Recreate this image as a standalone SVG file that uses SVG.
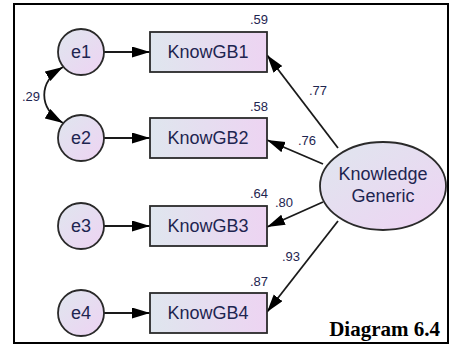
<svg xmlns="http://www.w3.org/2000/svg" width="451" height="351" viewBox="0 0 451 351">
<defs>
<linearGradient id="g" x1="0" y1="0" x2="1" y2="1">
<stop offset="0" stop-color="#dfe6ee"/>
<stop offset="1" stop-color="#eed3f3"/>
</linearGradient>
<linearGradient id="gb" x1="0" y1="0" x2="1" y2="0">
<stop offset="0" stop-color="#dfe6ee"/>
<stop offset="1" stop-color="#edd4f2"/>
</linearGradient>
<marker id="ah" markerUnits="userSpaceOnUse" markerWidth="20" markerHeight="12" refX="18" refY="5.5" orient="auto-start-reverse">
<path d="M0,0 L18,5.5 L0,11 z" fill="#000"/>
</marker>
</defs>
<style>
.node{stroke:#2a2a2a;stroke-width:1.8}
.lbl{font-family:"Liberation Sans",Arial,sans-serif;font-size:18px;fill:#1e2550;text-anchor:middle}
.num{font-family:"Liberation Sans",Arial,sans-serif;font-size:13px;fill:#1e2550;text-anchor:middle}
.con{stroke:#1a1a1a;stroke-width:1.8;fill:none;marker-end:url(#ah)}
</style>
<rect x="14" y="4" width="434" height="339" fill="#fff" stroke="#000" stroke-width="2"/>
<g id="connectors">
<line class="con" x1="104" y1="52" x2="150" y2="52"/>
<line class="con" x1="104" y1="138" x2="150" y2="138"/>
<line class="con" x1="104" y1="226" x2="150" y2="226"/>
<line class="con" x1="104" y1="313" x2="150" y2="313"/>
<path class="con" style="marker-start:url(#ah)" d="M63,67 C38,82 38,108 63,123"/>
<line class="con" x1="338" y1="148" x2="267" y2="55"/>
<line class="con" x1="323" y1="164" x2="267" y2="140"/>
<line class="con" x1="323" y1="202" x2="267" y2="227"/>
<line class="con" x1="338" y1="221" x2="267" y2="312"/>
<text class="num" x="31" y="101">.29</text>
<text class="num" x="318" y="95">.77</text>
<text class="num" x="307" y="145">.76</text>
<text class="num" x="284" y="207">.80</text>
<text class="num" x="291" y="261">.93</text>
</g>
<g id="e1"><circle class="node" cx="81" cy="52" r="23" fill="url(#g)"/><text class="lbl" x="81" y="58">e1</text></g>
<g id="e2"><circle class="node" cx="81" cy="138" r="23" fill="url(#g)"/><text class="lbl" x="81" y="144">e2</text></g>
<g id="e3"><circle class="node" cx="81" cy="226" r="23" fill="url(#g)"/><text class="lbl" x="81" y="232">e3</text></g>
<g id="e4"><circle class="node" cx="81" cy="313" r="23" fill="url(#g)"/><text class="lbl" x="81" y="319">e4</text></g>
<g id="KnowGB1"><rect class="node" x="150" y="32" width="117" height="40" fill="url(#gb)"/><text class="lbl" x="208" y="58">KnowGB1</text><text class="num" x="259" y="24">.59</text></g>
<g id="KnowGB2"><rect class="node" x="150" y="118" width="117" height="40" fill="url(#gb)"/><text class="lbl" x="208" y="144">KnowGB2</text><text class="num" x="259" y="111">.58</text></g>
<g id="KnowGB3"><rect class="node" x="150" y="206" width="117" height="40" fill="url(#gb)"/><text class="lbl" x="208" y="232">KnowGB3</text><text class="num" x="259" y="198">.64</text></g>
<g id="KnowGB4"><rect class="node" x="150" y="293" width="117" height="40" fill="url(#gb)"/><text class="lbl" x="208" y="319">KnowGB4</text><text class="num" x="259" y="286">.87</text></g>
<g id="KnowledgeGeneric"><ellipse class="node" cx="383" cy="186" rx="63" ry="44" fill="url(#g)"/><text class="lbl" x="383" y="180">Knowledge</text><text class="lbl" x="383" y="202">Generic</text></g>
<text x="440" y="336" font-family="'Liberation Serif','Times New Roman',serif" font-weight="bold" font-size="21" text-anchor="end" fill="#000">Diagram 6.4</text>
</svg>
